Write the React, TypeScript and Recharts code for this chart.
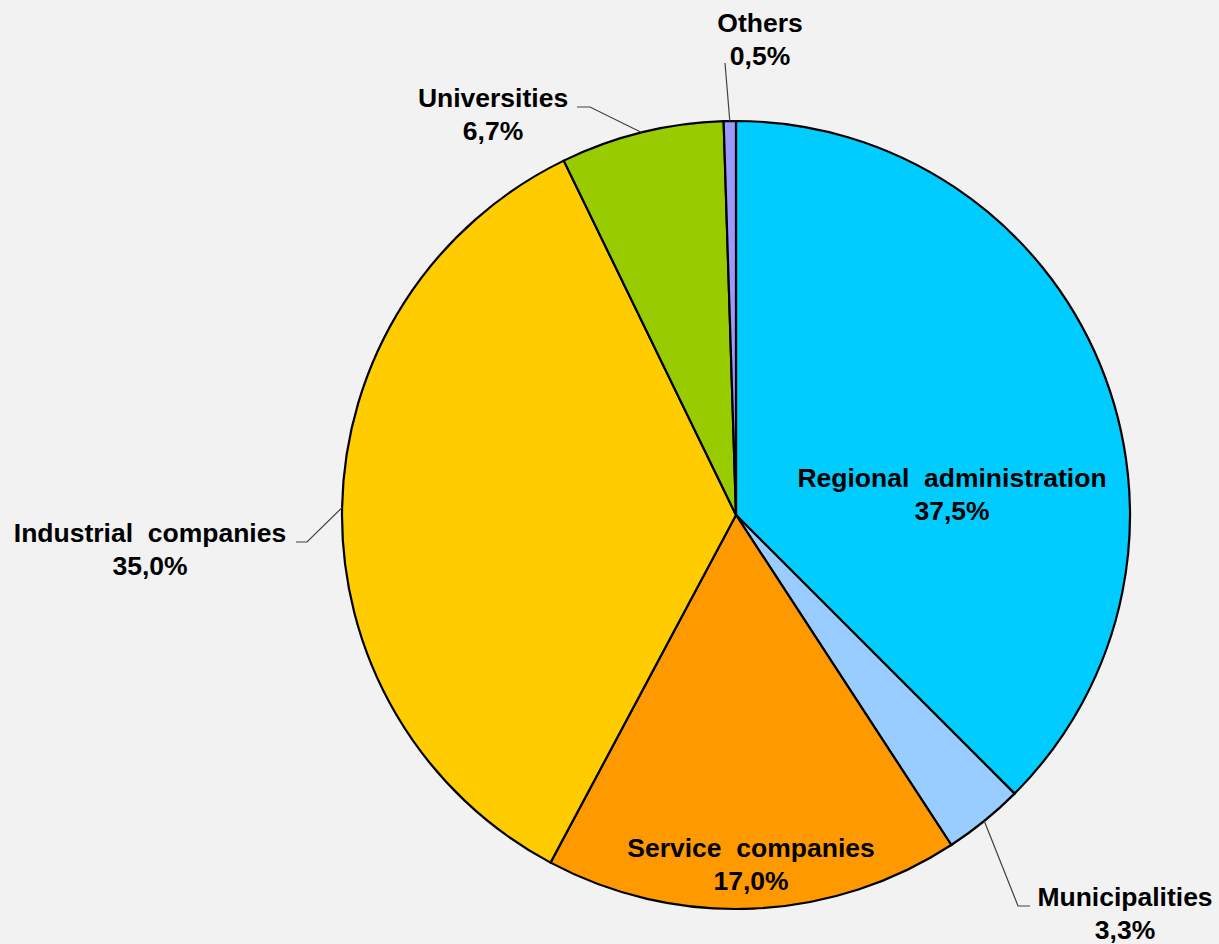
import { PieChart, Pie, Cell } from "recharts";

const categories = [
  "Regional  administration",
  "Municipalities",
  "Service  companies",
  "Industrial  companies",
  "Universities",
  "Others",
];
const shares = [37.5, 3.3, 17.0, 35.0, 6.7, 0.5];
const colors = ["#00CCFF", "#99CCFF", "#FF9900", "#FFCC00", "#99CC00", "#9999FF"];

const data = categories.map((name, i) => ({ name, value: shares[i] }));

// label placement, offsets from the pie centre (text = centre of first line baseline)
const LABELS = [
  { tx: 216, ty: -28 },
  { tx: 389, ty: 391, elbow: [282, 391], end: [294, 391] },
  { tx: 15, ty: 342 },
  { tx: -586, ty: 27, elbow: [-429, 27], end: [-440, 27] },
  { tx: -243, ty: -408, elbow: [-146, -408], end: [-159, -408] },
  { tx: 24, ty: -483, elbow: [-11, -452], end: [-11, -452] },
];

const RADIAN = Math.PI / 180;
const FONT = "'Liberation Sans', Arial, sans-serif";

const renderLabel = (props: any) => {
  const { cx, cy, midAngle, outerRadius, index, name, value } = props;
  const cfg = LABELS[index];
  const x = cx + cfg.tx;
  const y = cy + cfg.ty;
  const sx = cx + outerRadius * Math.cos(-midAngle * RADIAN);
  const sy = cy + outerRadius * Math.sin(-midAngle * RADIAN);
  return (
    <g key={`lbl-${index}`}>
      {cfg.elbow && (
        <polyline
          points={`${sx},${sy} ${cx + cfg.elbow[0]},${cy + cfg.elbow[1]} ${cx + cfg.end[0]},${cy + cfg.end[1]}`}
          fill="none"
          stroke="#404040"
          strokeWidth={1.2}
        />
      )}
      <text
        x={x}
        y={y}
        textAnchor="middle"
        fill="#000"
        fontFamily={FONT}
        fontWeight="bold"
        fontSize={26.5}
        style={{ whiteSpace: "pre" }}
      >
        <tspan x={x} y={y}>
          {name}
        </tspan>
        <tspan x={x} y={y + 33}>
          {value.toFixed(1).replace(".", ",") + "%"}
        </tspan>
      </text>
    </g>
  );
};

export default function App() {
  return (
    <div
      style={{
        position: "absolute",
        left: 0,
        top: 0,
        width: 1219,
        height: 944,
        background: "#F2F2F2",
      }}
    >
      <PieChart
        width={1219}
        height={944}
        margin={{ top: 0, right: 0, bottom: 0, left: 0 }}
      >
        <Pie
          data={data}
          dataKey="value"
          nameKey="name"
          cx={736}
          cy={515}
          outerRadius={394}
          startAngle={90}
          endAngle={-270}
          stroke="#000"
          strokeWidth={2.2}
          label={renderLabel}
          labelLine={false}
          isAnimationActive={false}
        >
          {data.map((_, i) => (
            <Cell key={i} fill={colors[i]} />
          ))}
        </Pie>
      </PieChart>
    </div>
  );
}
